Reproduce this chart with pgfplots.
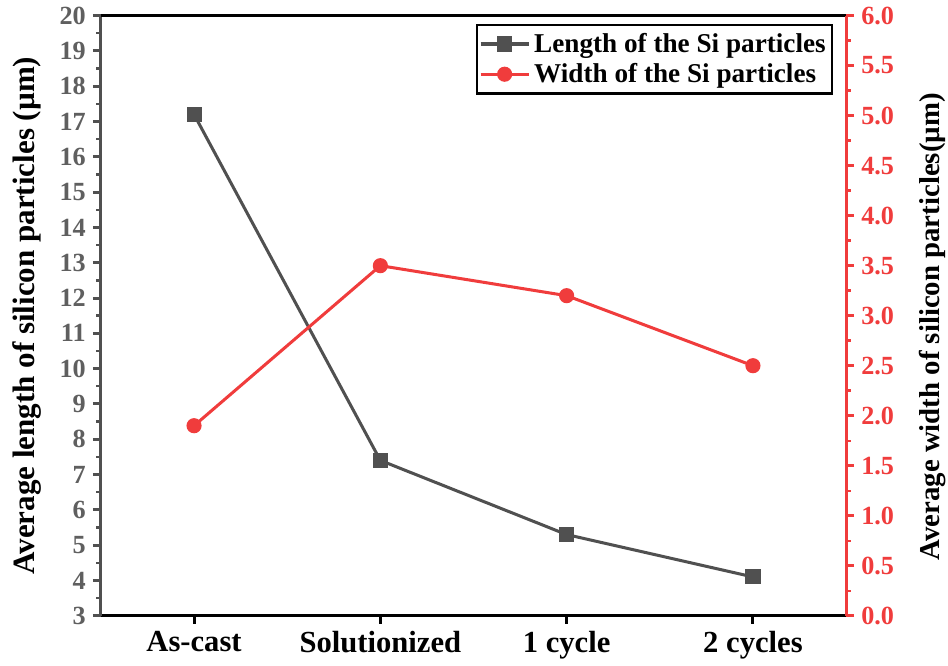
\documentclass[border=0pt]{standalone}
\usepackage{fontspec}
\setmainfont{Liberation Serif}
\usepackage{pgfplots}
\pgfplotsset{compat=1.18}
\definecolor{lgray}{RGB}{80,80,80}
\definecolor{tgray}{RGB}{95,95,95}
\definecolor{wred}{RGB}{240,60,60}
\begin{document}
\begin{tikzpicture}
\pgfplotsset{
  every axis/.append style={
    scale only axis, width=370pt, height=298pt,
    xmin=-0.5, xmax=3.5,
    /pgf/number format/assume math mode=true,
    tick align=outside,
    major tick length=4pt, minor tick length=2.2pt,
    every tick/.style={line width=1.5pt},
    every minor tick/.style={line width=1.2pt},
    y tick label style={font=\fontsize{13}{15}\selectfont\bfseries},
    x tick label style={font=\fontsize{15.2}{18}\selectfont\bfseries},
  }
}
% left axis: particle length
\begin{axis}[
  axis y line*=left, axis x line*=bottom,
  x axis line style={-, black, line width=1.5pt},
  y axis line style={-, lgray, line width=1.5pt},
  ymin=3, ymax=20, ytick={3,...,20}, minor y tick num=1,
  y tick style={lgray}, y tick label style={tgray},
  xtick={0,1,2,3}, xticklabels={As-cast,Solutionized,1 cycle,2 cycles},
  x tick style={black},
  ylabel={Average length of silicon particles (µm)},
  ylabel style={at={(axis description cs:-0.0986,0.5)}, anchor=center, inner sep=6.5pt,
    font=\fontsize{15.4}{18}\selectfont\bfseries},
]
\addplot[lgray, line width=1.5pt, mark=square*, mark size=3pt, mark options={solid}]
  coordinates {(0,17.2) (1,7.4) (2,5.3) (3,4.1)};
\end{axis}
% right axis: particle width
\begin{axis}[
  axis y line*=right, axis x line*=top,
  x axis line style={-, black, line width=1.5pt},
  y axis line style={-, wred, line width=1.5pt},
  xtick=\empty,
  ymin=0, ymax=6, ytick={0,0.5,...,6}, minor y tick num=1,
  y tick style={wred}, y tick label style={wred},
  yticklabel style={/pgf/number format/.cd, fixed, fixed zerofill, precision=1},
  ylabel={Average width of silicon particles(µm)},
  ylabel style={at={(axis description cs:1.1162,0.4815)}, anchor=center, inner sep=1pt,
    font=\fontsize{14.3}{17}\selectfont\bfseries},
  legend style={at={(axis description cs:1,1)}, anchor=north east, xshift=-6.5pt, yshift=-4pt,
    draw=black, line width=1.2pt, font=\fontsize{13.5}{16}\selectfont\bfseries,
    inner xsep=1pt, inner ysep=2pt, row sep=0pt},
  legend cell align=left,
  legend image code/.code={\draw[mark repeat=2, mark phase=2, #1] plot coordinates {(0cm,0cm) (0.42cm,0cm) (0.84cm,0cm)};},
]
\addlegendimage{lgray, line width=1.5pt, mark=square*, mark size=3pt}
\addlegendentry{Length of the Si particles}
\addplot[wred, line width=1.5pt, mark=*, mark size=3pt]
  coordinates {(0,1.9) (1,3.5) (2,3.2) (3,2.5)};
\addlegendentry{Width of the Si particles}
\end{axis}
\end{tikzpicture}
\end{document}
